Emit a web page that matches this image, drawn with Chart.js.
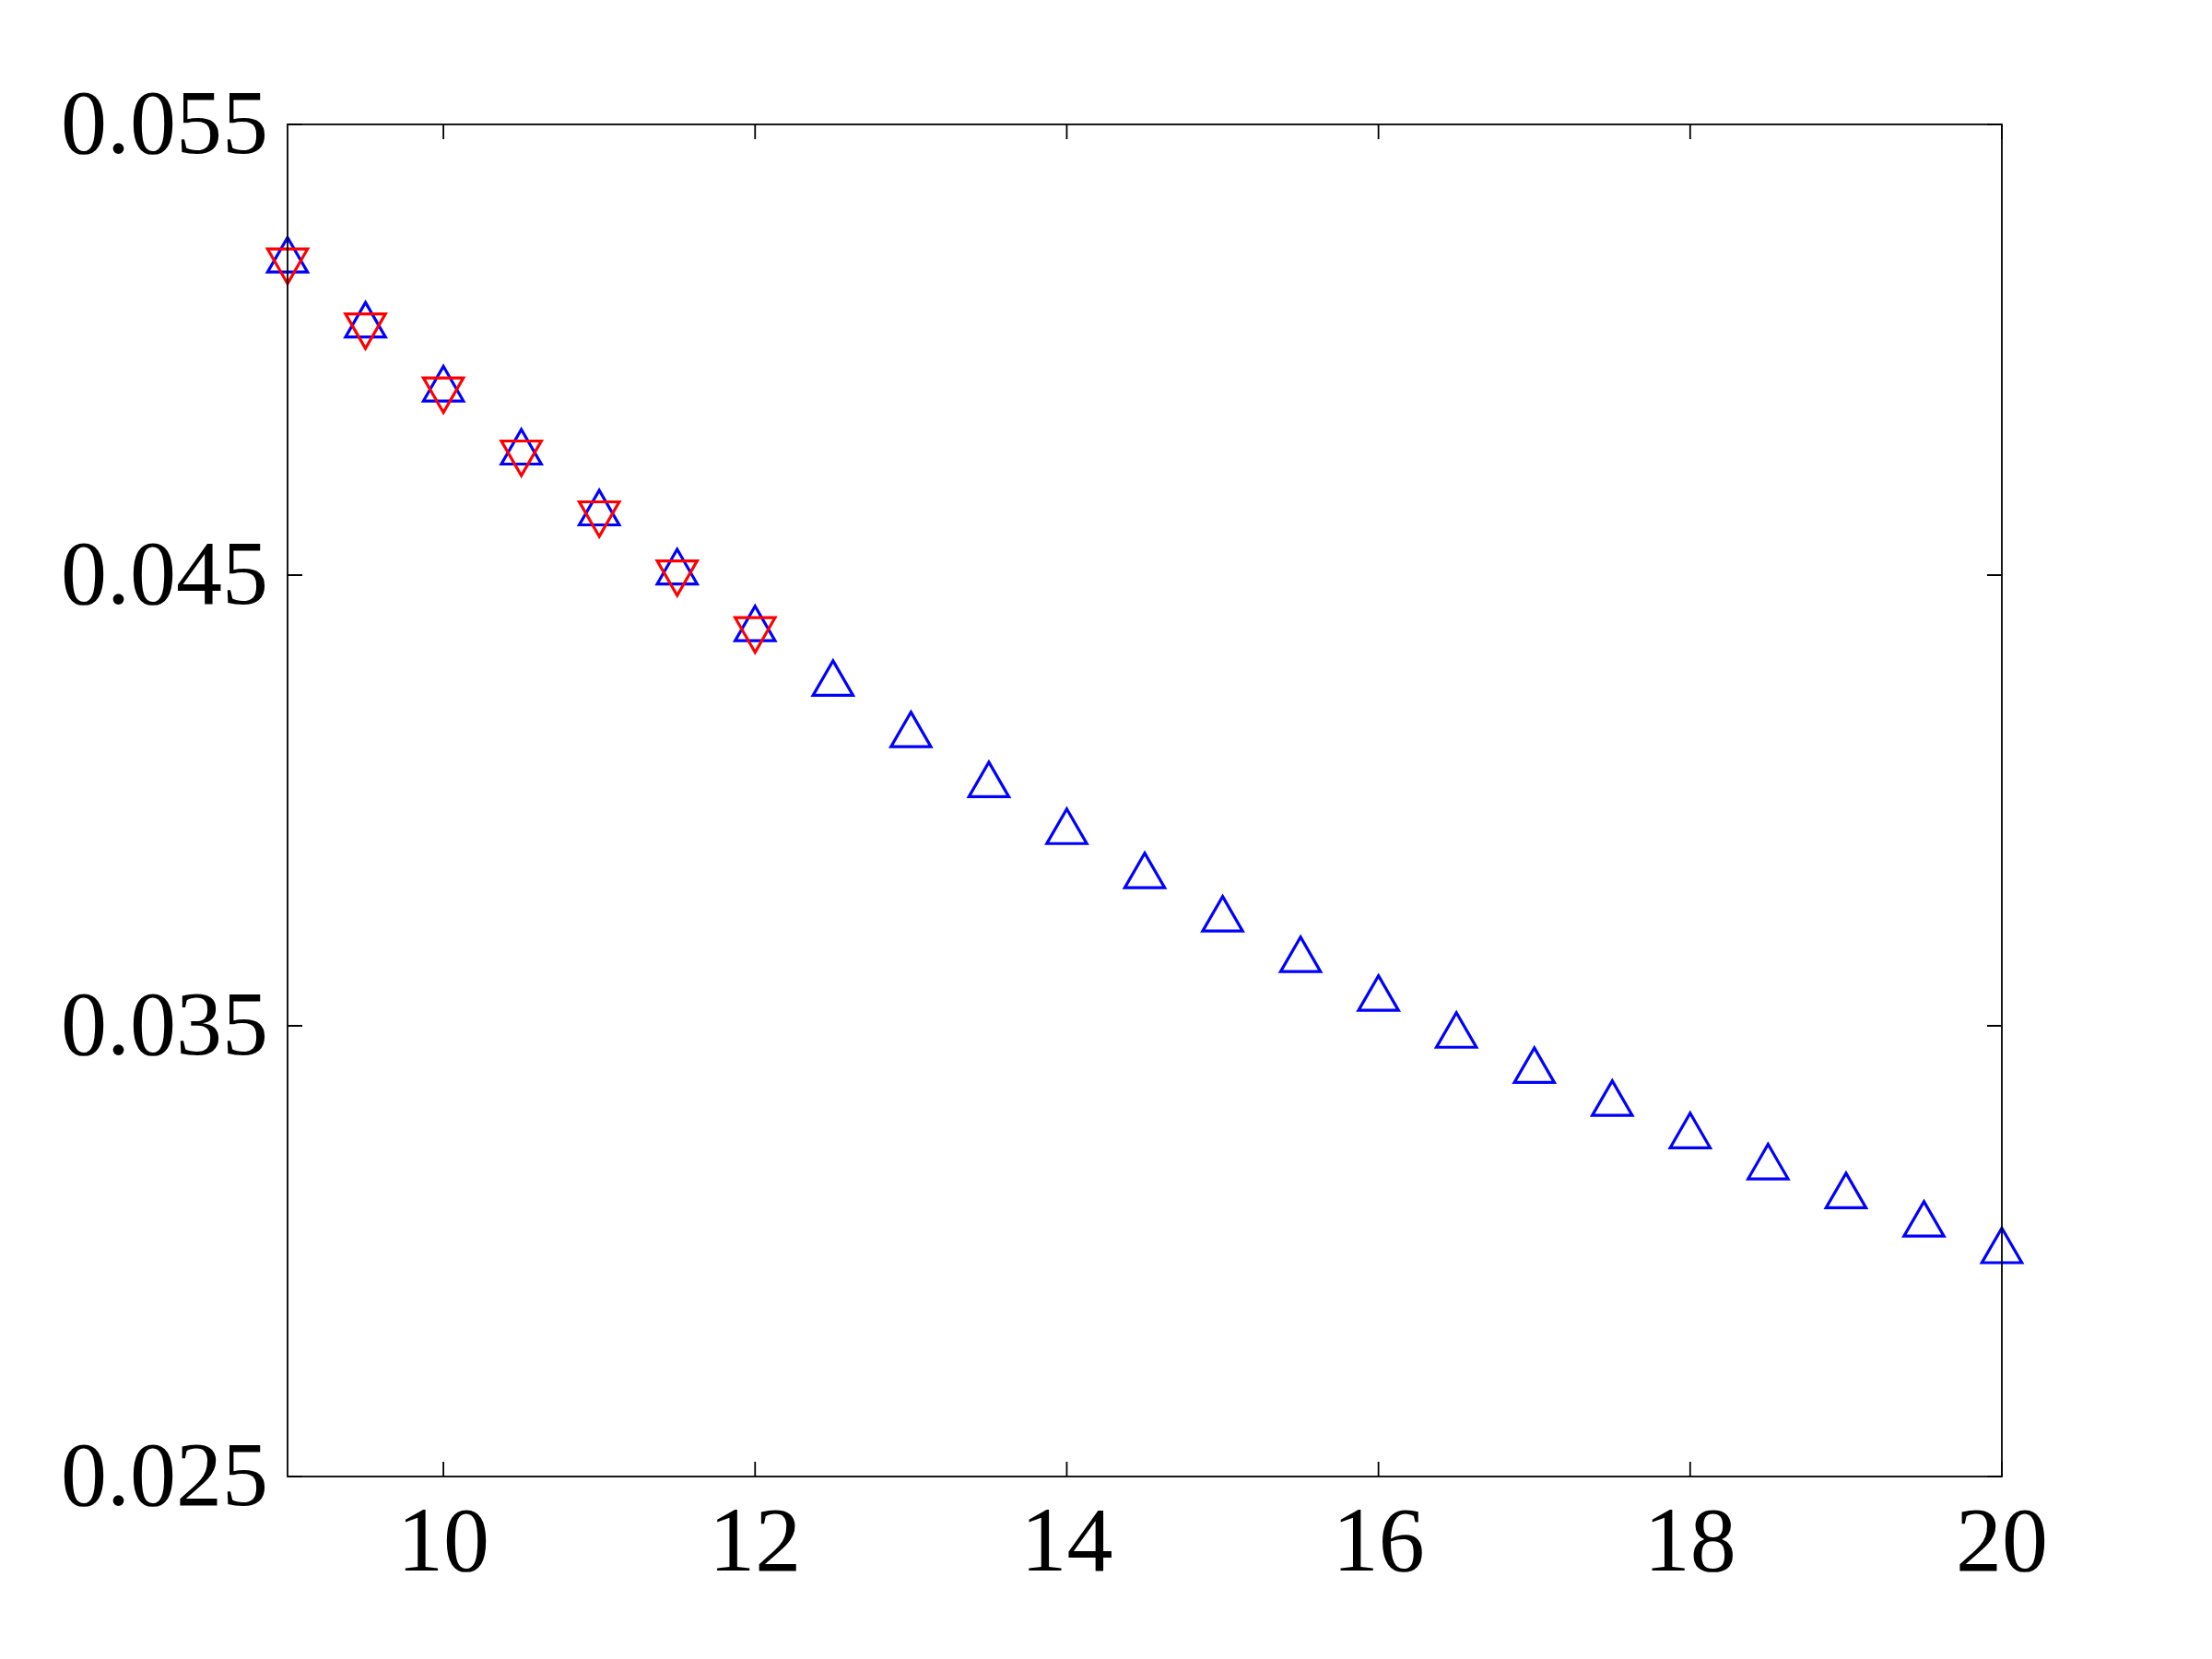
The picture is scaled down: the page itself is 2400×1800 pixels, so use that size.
<!DOCTYPE html>
<html>
<head>
<meta charset="utf-8">
<script src="https://cdn.jsdelivr.net/npm/chart.js@4"></script>
<style>
  html, body { margin: 0; padding: 0; background: #fff; }
</style>
</head>
<body>
<canvas id="chart" width="2400" height="1800"></canvas>
<script>
// values
const xValues = [9, 9.5, 10, 10.5, 11, 11.5, 12, 12.5, 13, 13.5, 14, 14.5, 15, 15.5, 16, 16.5, 17, 17.5, 18, 18.5, 19, 19.5, 20];
const blueValues = [0.05198, 0.05054, 0.04912, 0.04772, 0.04637, 0.04506, 0.04380, 0.04259, 0.04145, 0.04034, 0.03930, 0.03832,
                    0.03736, 0.03646, 0.03560, 0.03478, 0.03400, 0.03327, 0.03255, 0.03186, 0.03122, 0.03059, 0.03000];
const redX = [9, 9.5, 10, 10.5, 11, 11.5, 12];
const redValues = [0.05198, 0.05054, 0.04912, 0.04772, 0.04637, 0.04506, 0.04380];
const xTicks = [10, 12, 14, 16, 18, 20];
const yTicks = [0.025, 0.035, 0.045, 0.055];

const tickFont = { family: '"Liberation Serif", "DejaVu Serif", serif', size: 100 };

// box round the plot with inward ticks on all four sides
const framePlugin = {
    id: 'frame',
    afterDatasetsDraw(chart) {
        const { ctx, chartArea: a, scales: { x, y } } = chart;
        const len = 16;
        ctx.save();
        ctx.strokeStyle = '#000';
        ctx.lineWidth = 1.8;
        ctx.strokeRect(a.left, a.top, a.right - a.left, a.bottom - a.top);
        ctx.beginPath();
        xTicks.forEach(v => {
            const px = x.getPixelForValue(v);
            ctx.moveTo(px, a.bottom); ctx.lineTo(px, a.bottom - len);
            ctx.moveTo(px, a.top); ctx.lineTo(px, a.top + len);
        });
        yTicks.forEach(v => {
            const py = y.getPixelForValue(v);
            ctx.moveTo(a.left, py); ctx.lineTo(a.left + len, py);
            ctx.moveTo(a.right, py); ctx.lineTo(a.right - len, py);
        });
        ctx.stroke();
        ctx.restore();
    }
};

new Chart(document.getElementById('chart'), {
    type: 'scatter',
    data: {
        datasets: [
            {
                label: 'blue',
                data: xValues.map((x, i) => ({ x: x, y: blueValues[i] })),
                pointStyle: 'triangle',
                pointRadius: 25,
                borderColor: '#0000ff',
                backgroundColor: 'transparent',
                borderWidth: 3.2,
                clip: false,
                order: 2
            },
            {
                label: 'red',
                data: redX.map((x, i) => ({ x: x, y: redValues[i] })),
                pointStyle: 'triangle',
                rotation: 180,
                pointRadius: 25,
                borderColor: '#ff0000',
                backgroundColor: 'transparent',
                borderWidth: 3.2,
                clip: false,
                order: 1
            }
        ]
    },
    options: {
        responsive: false,
        animation: false,
        devicePixelRatio: 1,
        layout: {
            autoPadding: false,
            padding: { left: 0, right: 228, top: 135, bottom: 0 }
        },
        scales: {
            x: {
                type: 'linear',
                position: 'bottom',
                min: 9,
                max: 20,
                grid: { display: false, drawTicks: false },
                border: { display: false },
                afterBuildTicks: scale => { scale.ticks = xTicks.map(v => ({ value: v })); },
                afterFit: scale => { scale.height = 198; },
                ticks: {
                    color: '#000',
                    font: tickFont,
                    padding: 16,
                    maxRotation: 0,
                    callback: v => String(v)
                }
            },
            y: {
                type: 'linear',
                min: 0.025,
                max: 0.055,
                grid: { display: false, drawTicks: false },
                border: { display: false },
                afterBuildTicks: scale => { scale.ticks = yTicks.map(v => ({ value: v })); },
                afterFit: scale => { scale.width = 312; },
                ticks: {
                    color: '#000',
                    font: tickFont,
                    padding: 21,
                    labelOffset: 5,
                    callback: v => v.toFixed(3)
                }
            }
        },
        plugins: {
            legend: { display: false },
            tooltip: { enabled: false }
        }
    },
    plugins: [framePlugin]
});
</script>
</body>
</html>
